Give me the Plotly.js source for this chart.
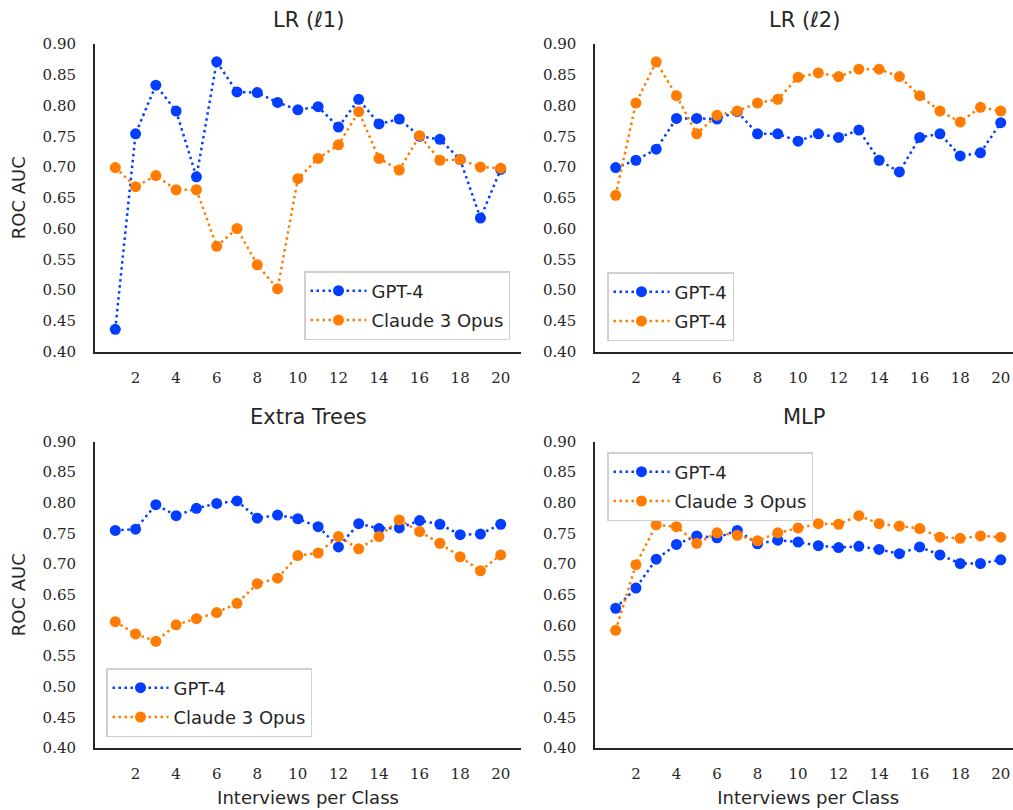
<!DOCTYPE html>
<html>
<head>
<meta charset="utf-8">
<script src="https://cdn.plot.ly/plotly-3.0.1.min.js"></script>
<style>
  html, body { margin: 0; padding: 0; background: #ffffff; overflow: hidden; }
  #chart { width: 1025px; height: 810px; }
</style>
</head>
<body>
<div id="chart"></div>
<script>
// ---- data ----
const interviews = [1, 2, 3, 4, 5, 6, 7, 8, 9, 10, 11, 12, 13, 14, 15, 16, 17, 18, 19, 20];
const xTickVals = [2, 4, 6, 8, 10, 12, 14, 16, 18, 20];
const yTickVals = [0.40, 0.45, 0.50, 0.55, 0.60, 0.65, 0.70, 0.75, 0.80, 0.85, 0.90];
const yTickText = ["0.40", "0.45", "0.50", "0.55", "0.60", "0.65", "0.70", "0.75", "0.80", "0.85", "0.90"];

const panelTitles = ["LR (ℓ1)", "LR (ℓ2)", "Extra Trees", "MLP"];

const lrL1_gpt4   = [0.436, 0.754, 0.833, 0.791, 0.684, 0.871, 0.822, 0.821, 0.805, 0.793, 0.798, 0.765, 0.810, 0.770, 0.778, 0.750, 0.745, 0.712, 0.617, 0.696];
const lrL1_claude = [0.699, 0.668, 0.686, 0.663, 0.663, 0.571, 0.600, 0.541, 0.502, 0.681, 0.714, 0.736, 0.790, 0.714, 0.695, 0.751, 0.711, 0.712, 0.700, 0.698];

const lrL2_gpt4   = [0.699, 0.711, 0.729, 0.779, 0.779, 0.778, 0.790, 0.754, 0.754, 0.742, 0.754, 0.748, 0.760, 0.711, 0.692, 0.748, 0.754, 0.718, 0.723, 0.772];
const lrL2_claude = [0.654, 0.804, 0.871, 0.816, 0.754, 0.784, 0.791, 0.804, 0.810, 0.846, 0.853, 0.847, 0.859, 0.859, 0.847, 0.816, 0.791, 0.773, 0.797, 0.791];

const et_gpt4   = [0.755, 0.757, 0.797, 0.779, 0.791, 0.799, 0.803, 0.775, 0.780, 0.774, 0.761, 0.728, 0.766, 0.758, 0.759, 0.771, 0.765, 0.748, 0.749, 0.765];
const et_claude = [0.606, 0.586, 0.574, 0.601, 0.611, 0.621, 0.636, 0.668, 0.677, 0.714, 0.718, 0.745, 0.725, 0.745, 0.772, 0.753, 0.734, 0.712, 0.689, 0.715];

const mlp_gpt4   = [0.628, 0.661, 0.708, 0.732, 0.746, 0.743, 0.755, 0.733, 0.739, 0.736, 0.730, 0.727, 0.729, 0.724, 0.717, 0.728, 0.715, 0.701, 0.701, 0.707];
const mlp_claude = [0.592, 0.699, 0.764, 0.761, 0.734, 0.751, 0.747, 0.738, 0.751, 0.759, 0.766, 0.765, 0.779, 0.766, 0.762, 0.758, 0.744, 0.742, 0.746, 0.744];

const legendNames = [
  ["GPT-4", "Claude 3 Opus"],
  ["GPT-4", "GPT-4"],
  ["GPT-4", "Claude 3 Opus"],
  ["GPT-4", "Claude 3 Opus"]
];

// ---- styling ----
const BLUE = "#023eff";
const ORANGE = "#ff7c00";
const TEXT = "#262626";
const SANS = "DejaVu Sans, sans-serif";
const SERIF = "DejaVu Serif, serif";

const panels = [
  [lrL1_gpt4, lrL1_claude],
  [lrL2_gpt4, lrL2_claude],
  [et_gpt4, et_claude],
  [mlp_gpt4, mlp_claude]
];

const traces = [];
panels.forEach((series, i) => {
  const ax = i === 0 ? "" : String(i + 1);
  const leg = i === 0 ? "legend" : "legend" + (i + 1);
  [BLUE, ORANGE].forEach((col, j) => {
    traces.push({
      x: interviews,
      y: series[j],
      type: "scatter",
      mode: "lines+markers",
      name: legendNames[i][j],
      legendgroup: "g" + i + "_" + j,
      xaxis: "x" + ax,
      yaxis: "y" + ax,
      legend: leg,
      line: { color: col, width: 2.5, dash: "2.5px,3.5px" },
      marker: { color: col, size: 11 },
      hoverinfo: "skip"
    });
  });
});

const L = 95, W = 1025, H = 810, T = 44, B = 62;
const PW = W - L - 4, PH = H - T - B;
const px = v => (v - L) / PW;
const py = v => (H - B - v) / PH;

const xDomL = [0, px(521)];
const xDomR = [px(595.4), 1];
const yDomT = [py(351.5), 1];
const yDomB = [0, py(441.5)];

function xAxis(domain, anchor, showTitle) {
  return {
    domain: domain, anchor: anchor, range: [0, 21],
    tickmode: "array", tickvals: xTickVals,
    ticks: "outside", ticklen: 11, tickcolor: "rgba(0,0,0,0)",
    tickfont: { family: SERIF, size: 15, color: TEXT },
    showline: true, linecolor: TEXT, linewidth: 2,
    showgrid: false, zeroline: false, fixedrange: true,
    title: showTitle ? { text: "Interviews per Class", font: { family: SANS, size: 18, color: TEXT }, standoff: 9 } : { text: "" }
  };
}
function yAxis(domain, anchor, showTitle) {
  return {
    domain: domain, anchor: anchor, range: [0.40, 0.90],
    tickmode: "array", tickvals: yTickVals, ticktext: yTickText,
    ticks: "outside", ticklen: 14, tickcolor: "rgba(0,0,0,0)",
    tickfont: { family: SERIF, size: 15, color: TEXT },
    showline: true, linecolor: TEXT, linewidth: 2,
    showgrid: false, zeroline: false, fixedrange: true,
    title: showTitle ? { text: "ROC AUC", font: { family: SANS, size: 18, color: TEXT }, standoff: 12 } : { text: "" }
  };
}
function legend(x, y, xanchor, yanchor) {
  return {
    x: x, y: y, xanchor: xanchor, yanchor: yanchor,
    bgcolor: "#ffffff", bordercolor: "#d0d0d0", borderwidth: 1.5,
    font: { family: SANS, size: 18, color: TEXT },
    itemwidth: 56, tracegroupgap: 3
  };
}

const annotations = [
  { text: panelTitles[0], x: (xDomL[0] + xDomL[1]) / 2, y: py(20) },
  { text: panelTitles[1], x: (xDomR[0] + xDomR[1]) / 2 - 0.004, y: py(20) },
  { text: panelTitles[2], x: (xDomL[0] + xDomL[1]) / 2, y: py(417) },
  { text: panelTitles[3], x: (xDomR[0] + xDomR[1]) / 2 - 0.004, y: py(417) }
].map(a => Object.assign(a, {
  xref: "paper", yref: "paper", showarrow: false,
  xanchor: "center", yanchor: "middle",
  font: { family: SANS, size: 21, color: TEXT }
}));

const layout = {
  width: W, height: H,
  margin: { l: L, r: 4, t: T, b: B },
  paper_bgcolor: "#ffffff", plot_bgcolor: "#ffffff",
  showlegend: true,
  xaxis: xAxis(xDomL, "y", false),
  yaxis: yAxis(yDomT, "x", true),
  xaxis2: xAxis(xDomR, "y2", false),
  yaxis2: yAxis(yDomT, "x2", false),
  xaxis3: xAxis(xDomL, "y3", true),
  yaxis3: yAxis(yDomB, "x3", true),
  xaxis4: xAxis(xDomR, "y4", true),
  yaxis4: yAxis(yDomB, "x4", false),
  legend: legend(px(510), py(340), "right", "bottom"),
  legend2: legend(px(607), py(341), "left", "bottom"),
  legend3: legend(px(106), py(737), "left", "bottom"),
  legend4: legend(px(607), py(452), "left", "top"),
  annotations: annotations
};

Plotly.newPlot("chart", traces, layout, { displayModeBar: false, staticPlot: true });
</script>
</body>
</html>
